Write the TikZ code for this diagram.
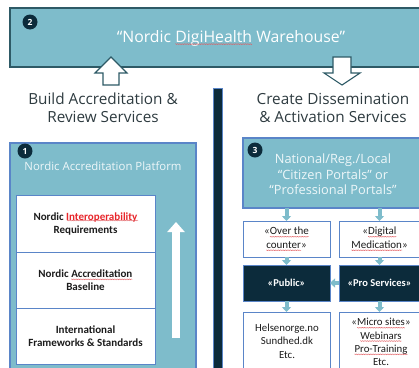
\documentclass[tikz,border=0pt]{standalone}
\usepackage{fontspec}
\setmainfont{Open Sans}
\newfontfamily\calib{Carlito}
\usetikzlibrary{arrows.meta,decorations.pathmorphing}

\definecolor{tealfill}{HTML}{7EBCCB}
\definecolor{tealedge}{HTML}{2E5A66}
\definecolor{navy}{HTML}{0C2B3B}
\definecolor{blueline}{HTML}{5A85C8}
\definecolor{headtext}{HTML}{2E3B40}
\definecolor{softwhite}{HTML}{EEF7F9}
\definecolor{celltext}{HTML}{1C1C1C}
\definecolor{redword}{HTML}{E8262B}
\definecolor{squigred}{HTML}{E25A5E}

% red wavy underline for flagged words (resets the enclosing node's looks)
\tikzset{
  squigword/.style={shape=rectangle, draw=none, fill=none, minimum width=0pt,
    minimum height=0pt, inner sep=0pt, outer sep=0pt},
  squigline/.style={draw=squigred, fill=none, line width=0.3pt, decorate,
    decoration={zigzag, amplitude=0.5pt, segment length=1.7pt}},
}
\newcommand\squig[1]{\tikz[baseline=(sq.base)]{%
  \node[squigword] (sq) {#1};
  \draw[squigline] ([yshift=-2pt]sq.base west) -- ([yshift=-2pt]sq.base east);}}

\tikzset{
  box/.style={minimum width=#1, inner sep=0pt, outer sep=0pt},
  warehouse/.style={draw=tealedge, line width=1.2pt, fill=tealfill},
  panel/.style={draw=blueline, line width=1.4pt, fill=tealfill},
  cellbox/.style={draw=blueline, line width=1pt, fill=white, text=celltext,
    align=center, font=\calib\fontsize{11}{13}\selectfont\bfseries},
  portalbox/.style={draw=blueline, line width=1pt, fill=white, text=celltext,
    align=center, font=\calib\fontsize{11}{13.5}\selectfont},
  darkbox/.style={draw=blueline, line width=1pt, fill=navy, text=white,
    align=center, font=\calib\fontsize{10.5}{11}\selectfont\bfseries},
  badge/.style={circle, fill=navy, text=white, minimum size=15pt, inner sep=0pt,
    font=\fontsize{8.5}{8.5}\selectfont\bfseries},
  heading/.style={text=headtext, align=center, font=\fontsize{15.3}{18.5}\selectfont},
  hollow/.style={draw=tealedge, line width=1.1pt, fill=white, line join=miter},
  flow/.style={draw=tealfill, line width=4pt,
    -{Triangle[width=9pt,length=5pt]}},
}

\begin{document}
\begin{tikzpicture}[x=1pt, y=-1pt]
\useasboundingbox (0,0) rectangle (419,367);
\clip (0,0) rectangle (419,367);

% --- top banner: the warehouse
\node[warehouse, box=420pt, minimum height=59pt] (wh) at (220,37.5) {};
\node[text=white, font=\fontsize{15.8}{16}\selectfont] (whtitle) at (231,38)
  {“Nordic \squig{DigiHealth} Warehouse”};
\node[badge] (b2) at (30,22) {2};

% hollow arrows into / out of the warehouse
\path[hollow] (111,57) -- (127,73) -- (119,73) -- (119,85) -- (103,85)
  -- (103,73) -- (95,73) -- cycle;
\path[hollow] (333,57) -- (351,57) -- (351,73) -- (360,73) -- (342,85)
  -- (324,73) -- (333,73) -- cycle;

% --- column headings
\node[heading] (buildhd) at (103,108) {Build Accreditation \&\\Review Services};
\node[heading] (createhd) at (333,108) {Create Dissemination\\\& Activation Services};

% --- divider
\node[draw=blueline, line width=0.8pt, fill=navy, box=9pt, minimum height=290pt]
  (divider) at (217.5,233) {};

% --- left: accreditation platform
\node[panel, box=186pt, minimum height=236pt] (platform) at (103,261) {};
\node[badge] (b1) at (25,151) {1};
\node[text=softwhite, font=\fontsize{11.4}{11.4}\selectfont] (platformtitle)
  at (103,166) {Nordic Accreditation Platform};

\node[cellbox, box=139pt, minimum height=57pt] (req) at (85.5,223.5)
  {Nordic \textcolor{redword}{Interoperability}\\Requirements};
\draw[squigline] (67,220.5) -- (138,220.5);
\node[cellbox, box=139pt, minimum height=56pt, anchor=north] (base) at (req.south)
  {Nordic \squig{Accreditation}\\Baseline};
\node[cellbox, box=139pt, minimum height=56pt, anchor=north] (intl) at (base.south)
  {International\\Frameworks \& Standards};

% white arrow: building up the layers
\draw[white, line width=8pt, -{Triangle[width=17pt,length=10pt]}]
  (176,338) -- (176,222);

% --- right: portals
\node[panel, box=177pt, minimum height=70pt] (portals) at (331.5,173) {};
\node[badge] (b3) at (255,150) {3};
\node[text=softwhite, align=center, font=\fontsize{12.8}{15.5}\selectfont]
  (portalstitle) at (333,174.5)
  {National/Reg./Local\\“Citizen Portals” or\\“Professional Portals”};

\node[portalbox, box=87pt, minimum height=36pt] (otc) at (286.5,239)
  {«\squig{Over the}\\\squig{counter}»};
\node[portalbox, box=81pt, minimum height=36pt] (digmed) at (379.5,239)
  {«\squig{Digital}\\\squig{Medication}»};
\node[darkbox, box=87pt, minimum height=36pt] (public) at (286.5,283)
  {«Public»};
\node[darkbox, box=81pt, minimum height=36pt] (pro) at (379.5,283)
  {«Pro Services»};
\node[portalbox, box=87pt, minimum height=68pt] (sites) at (286.5,346) {};
\node[portalbox, box=81pt, minimum height=68pt] (micro) at (379.5,346) {};
\node[text=celltext, align=center, font=\calib\fontsize{10.8}{13.5}\selectfont]
  (sitestext) at (287,341) {Helsenorge.no\\Sundhed.dk\\Etc.};
\node[text=celltext, align=center, font=\calib\fontsize{10.8}{13.3}\selectfont]
  (microtext) at (381,342)
  {«\squig{Micro sites}»\\\squig{Webinars}\\\squig{Pro-Training}\\Etc.};

% flows between the portal boxes
\draw[flow] (portals.south -| otc) -- (otc.north);
\draw[flow] (portals.south -| digmed) -- (digmed.north);
\draw[flow] (otc) -- (public);
\draw[flow] (digmed) -- (pro);
\draw[flow] (public) -- (sites);
\draw[flow] (pro) -- (micro);
\draw[flow] (pro) -- (public);
\end{tikzpicture}
\end{document}
